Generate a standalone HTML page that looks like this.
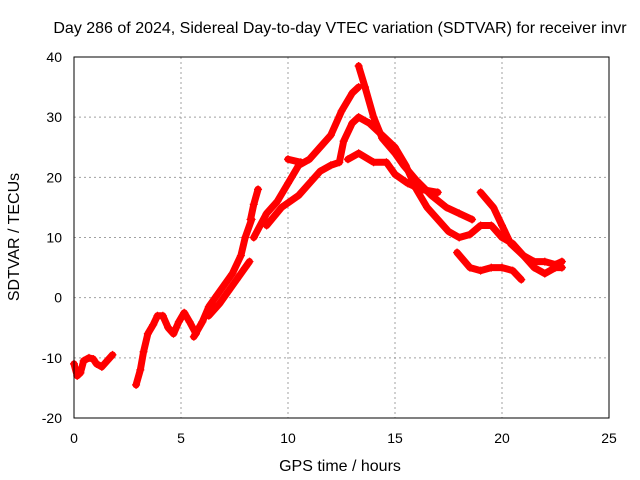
<!DOCTYPE html>
<html><head><meta charset="utf-8"><style>
body{margin:0;background:#fff}
svg{display:block;font-family:"Liberation Sans",sans-serif}
</style></head><body>
<svg id="chart" width="640" height="480">
<text x="340" y="33" text-anchor="middle" font-size="16">Day 286 of 2024, Sidereal Day-to-day VTEC variation (SDTVAR) for receiver invr</text>
<text x="340" y="471" text-anchor="middle" font-size="16">GPS time / hours</text>
<text transform="translate(19,237) rotate(-90)" text-anchor="middle" font-size="16">SDTVAR / TECUs</text>
<g id="grid"></g><g id="ticks"></g><g id="data"></g>
<rect x="74" y="57" width="535" height="361" fill="none" stroke="#000"/>
</svg>
<script>
const xTicks=[0,5,10,15,20,25];
const yTicks=[-20,-10,0,10,20,30,40];
const track1=[[0,-11],[0.15,-13],[0.3,-12.5],[0.45,-10.5],[0.7,-10],[0.9,-10.2],[1.05,-11],[1.3,-11.5],[1.55,-10.5],[1.8,-9.5]];
const track2=[[2.9,-14.5],[3.1,-12],[3.25,-9],[3.45,-6],[3.7,-4.5],[3.9,-3],[4.15,-3],[4.4,-5],[4.65,-6],[4.9,-4],[5.15,-2.5],[5.4,-4],[5.7,-6]];
const track3=[[5.6,-6.5],[6.0,-4],[6.3,-1.5],[6.7,0.5],[7.1,2.5],[7.4,4],[7.8,7],[8.0,10],[8.3,13]];
const track4=[[6.3,-3],[6.8,-1],[7.2,1],[7.6,3],[8.0,5],[8.2,6]];
const track5=[[8.25,13],[8.4,15.5],[8.6,18]];
const trackA=[[8.4,10],[9.0,14],[9.5,16],[10.0,19],[10.5,22],[11.0,23],[11.5,25],[12.0,27],[12.5,31],[13.0,34],[13.3,35]];
const trackB=[[9.0,12],[9.7,15],[10.5,17],[11.0,19],[11.5,21],[12.0,22],[12.4,22.5],[12.6,26],[13.0,29],[13.3,30],[13.8,29],[14.4,27],[15.0,25],[15.5,22],[16.0,18],[16.5,15],[17.0,13],[17.5,11],[18.0,10],[18.5,10.5],[19.0,12],[19.5,12],[20.0,10],[20.5,9],[21.0,7],[21.5,6],[22.0,6],[22.5,5.5],[22.8,6]];
const trackC=[[13.3,38.5],[13.6,35],[14.0,30],[14.4,26.5],[15.0,24],[15.4,22],[16.0,19.5],[16.7,17],[17.4,15],[18.0,14],[18.6,13]];
const trackD=[[12.8,23],[13.3,24],[14.0,22.5],[14.6,22.5],[15.0,20.5],[15.6,19],[16.2,18],[17.0,17.5]];
const trackE=[[17.9,7.5],[18.5,5],[19.0,4.5],[19.5,5],[20.0,5],[20.5,4.5],[20.9,3]];
const trackF=[[19.0,17.5],[19.6,15],[20.0,12],[20.4,9],[21.0,7],[21.5,5],[22.0,4],[22.5,5],[22.8,5]];
const trackG=[[10.0,23],[10.6,22.5]];
const tracks=[track1,track2,track3,track4,track5,trackA,trackB,trackC,trackD,trackE,trackF,trackG];
const X=h=>74+h*535/25, Y=v=>418-(v+20)*361/60;
const NS="http://www.w3.org/2000/svg";
const grid=document.getElementById('grid'),tk=document.getElementById('ticks'),dg=document.getElementById('data');
function mk(tag,a,p){const e=document.createElementNS(NS,tag);for(const k in a)e.setAttribute(k,a[k]);p.appendChild(e);return e;}
xTicks.forEach(t=>{
 if(t>0&&t<25){const l=mk('line',{x1:X(t),x2:X(t),y1:57,y2:418,stroke:'#a0a0a0','stroke-dasharray':'2,3'},grid);
 
 }
 const s=mk('text',{x:X(t),y:443,'text-anchor':'middle','font-size':14},tk);s.textContent=t;
 
 
});
yTicks.forEach(t=>{
 if(t>-20&&t<40){const l=mk('line',{x1:74,x2:609,y1:Y(t),y2:Y(t),stroke:'#a0a0a0','stroke-dasharray':'2,3'},grid);
 
 }
 const s=mk('text',{x:62,y:Y(t)+5,'text-anchor':'end','font-size':14},tk);s.textContent=t;
 
 
});
tracks.forEach(tr=>{
 const p=mk('polyline',{points:tr.map(d=>X(d[0])+','+Y(d[1])).join(' '),fill:'none',stroke:'#f00','stroke-width':7,'stroke-linejoin':'round','stroke-linecap':'round'},dg);
 
 
 tr.forEach(d=>{const m=mk('path',{d:`M${X(d[0])-4},${Y(d[1])}h8M${X(d[0])},${Y(d[1])-4}v8`,stroke:'#f00','stroke-width':1.2},dg);
 
 });
});
</script>
</body></html>
